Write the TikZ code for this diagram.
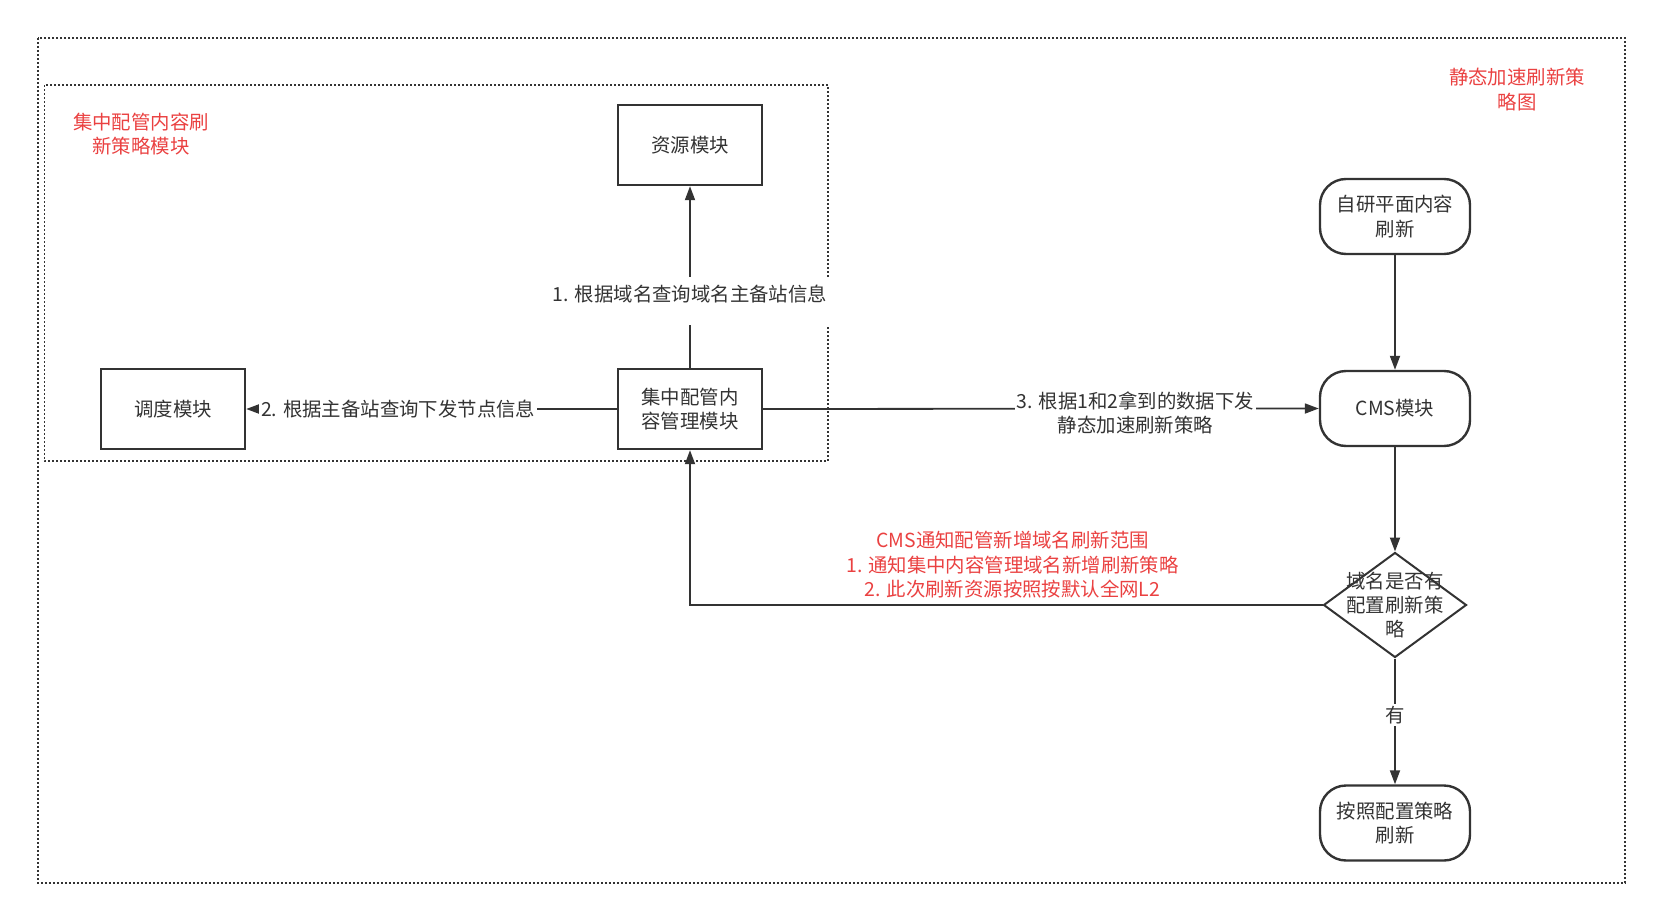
\documentclass[tikz,border=0pt]{standalone}
\usepackage{fontspec}
\newfontfamily\cjk{Noto Sans CJK SC}
\usetikzlibrary{arrows.meta,shapes.geometric}
\definecolor{ink}{HTML}{333333}
\definecolor{note}{HTML}{EA4141}
\tikzset{
  module/.style={draw=ink,line width=1.2pt,minimum width=72pt,minimum height=40pt,align=center,inner sep=2pt},
  terminal/.style={module,rounded corners=13pt,minimum width=75pt,minimum height=37.5pt},
  decision/.style={draw=ink,line width=1pt,diamond,minimum width=71.5pt,minimum height=52.5pt,inner sep=0pt},
  flow/.style={draw=ink,line width=0.9pt,-{Triangle[length=7pt,width=5pt]}},
  tag/.style={fill=white,align=center,inner sep=1pt},
  notice/.style={text=note,align=center},
  frame/.style={draw=ink,line width=0.8pt,dash pattern=on 0.8pt off 1.2pt},
}
\begin{document}
\begin{tikzpicture}[x=0.5pt,y=-0.5pt,every node/.style={font=\cjk\fontsize{9.7}{12.2}\selectfont,text=ink}]
\useasboundingbox (0,0) rectangle (1662,921);
% frames
\draw[frame] (38,38) rectangle (1625,883);
\draw[frame] (44.5,85) rectangle (828,461);
\node[notice] (groupTitle) at (141,134) {集中配管内容刷\\新策略模块};
\node[notice] (pageTitle) at (1517,89.5) {静态加速刷新策\\略图};
% modules
\node[module] (res) at (690,145) {资源模块};
\node[module] (sched) at (173,409) {调度模块};
\node[module] (cfg) at (690,409) {集中配管内\\容管理模块};
\node[terminal] (self) at (1395,216.5) {自研平面内容\\刷新};
\node[terminal] (cms) at (1395,408.5) {CMS模块};
\node[decision] (dec) at (1395,605) {};
\node[align=center] (decText) at (dec) {域名是否有\\配置刷新策\\略};
\node[terminal] (final) at (1395,823) {按照配置策略\\刷新};
% connectors
\draw[flow] (cfg.north) -- node[tag,pos=0.4,inner ysep=4pt,yshift=-3pt,text depth=8pt] {1. 根据域名查询域名主备站信息} (res.south);
\draw[flow] (cfg.west) -- node[tag,pos=0.59] {2. 根据主备站查询下发节点信息} (sched.east);
\draw[flow] (cfg.east) -- node[tag,pos=0.67,yshift=-2pt] {3. 根据1和2拿到的数据下发\\静态加速刷新策略} (cms.west);
\draw[flow] (self.south) -- (cms.north);
\draw[flow] (cms.south) -- (dec.north);
\draw[flow] (dec.west) -- node[notice,above,pos=0.49,inner sep=3pt] {CMS通知配管新增域名刷新范围\\1. 通知集中内容管理域名新增刷新策略\\2. 此次刷新资源按照按默认全网L2} (cfg.south |- dec.west) -- (cfg.south);
\draw[flow] (dec.south) -- node[tag,pos=0.45] {有} (final.north);
\end{tikzpicture}
\end{document}
